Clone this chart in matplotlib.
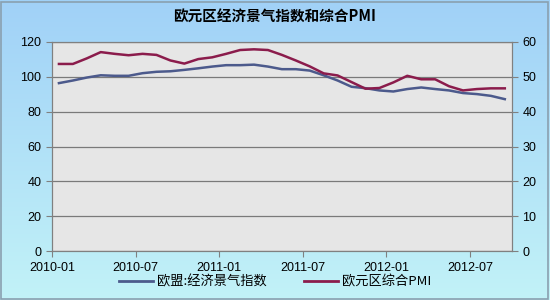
import numpy as np
import matplotlib.pyplot as plt
from matplotlib.lines import Line2D
from matplotlib.patches import Rectangle

plt.rcParams['font.family'] = ['Noto Sans CJK SC', 'DejaVu Sans']
plt.rcParams['axes.unicode_minus'] = False

# monthly data, 2010-01 .. 2012-09
months = [f"{y}-{m:02d}" for y in (2010, 2011, 2012) for m in range(1, 13)][:33]
esi = [96.4, 97.9, 99.6, 100.9, 100.6, 100.6, 102.1, 102.9, 103.2, 104.0,
       104.9, 105.9, 106.7, 106.7, 107.0, 105.9, 104.4, 104.4, 103.6, 100.9,
       97.9, 94.3, 93.5, 92.2, 91.6, 93.0, 93.9, 93.0, 92.2, 90.7,
       90.1, 89.1, 87.2]
pmi = [53.7, 53.7, 55.3, 57.1, 56.6, 56.2, 56.6, 56.3, 54.7, 53.8,
       55.1, 55.6, 56.6, 57.7, 57.9, 57.7, 56.3, 54.7, 53.0, 51.0,
       50.4, 48.5, 46.6, 46.8, 48.4, 50.3, 49.3, 49.3, 47.3, 46.1,
       46.5, 46.7, 46.7]
tick_labels = ['2010-01', '2010-07', '2011-01', '2011-07', '2012-01', '2012-07']

fig = plt.figure(figsize=(5.5, 3), dpi=100)

# gradient background
bg = fig.add_axes([0, 0, 1, 1], zorder=-2)
grad = np.linspace(0, 1, 256).reshape(-1, 1)
top = np.array([0.63, 0.82, 0.97])
bot = np.array([0.76, 0.95, 0.97])
img = top + (bot - top) * grad[:, :, None]
bg.imshow(img, aspect='auto', extent=[0, 1, 0, 1], origin='upper')
bg.add_patch(Rectangle((0.002, 0.004), 0.995, 0.99, fill=False,
                       edgecolor='#8aa0b0', linewidth=1.2, transform=bg.transAxes))
bg.axis('off')

ax = fig.add_axes([0.0945, 0.163, 0.836, 0.697])
ax.set_facecolor('#e6e6e6')
x = np.arange(len(months))
ax.plot(x, esi, color='#4c5a8c', linewidth=1.8, zorder=3)
ax.set_xlim(-0.5, len(months) - 0.5)
ax.set_ylim(0, 120)
ax.set_yticks(range(0, 121, 20))
ax.set_xticks(np.arange(-0.5, len(months), 6)[:len(tick_labels)])
ax.set_xticklabels(tick_labels)
ax.grid(axis='y', color='#7a7a7a', linewidth=0.9)
ax.set_axisbelow(True)
for s in ax.spines.values():
    s.set_color('#808080')
ax.tick_params(colors='#808080', labelcolor='black', labelsize=9,
               length=4, direction='out')
for lbl in ax.get_xticklabels() + ax.get_yticklabels():
    lbl.set_family(['Liberation Sans', 'DejaVu Sans'])

ax2 = ax.twinx()
ax2.plot(x, pmi, color='#8b1c4c', linewidth=1.8, zorder=3)
ax2.set_ylim(0, 60)
ax2.set_yticks(range(0, 61, 10))
for s in ax2.spines.values():
    s.set_color('#808080')
ax2.tick_params(colors='#808080', labelcolor='black', labelsize=9,
                length=4, direction='out')
for lbl in ax2.get_yticklabels():
    lbl.set_family(['Liberation Sans', 'DejaVu Sans'])

fig.text(0.5, 0.943, '欧元区经济景气指数和综合PMI', ha='center', va='center',
         fontsize=10.5, fontweight='bold')

handles = [Line2D([], [], color='#4c5a8c', linewidth=2),
           Line2D([], [], color='#8b1c4c', linewidth=2)]
fig.legend(handles, ['欧盟:经济景气指数', '欧元区综合PMI'], loc='center',
           bbox_to_anchor=(0.5, 0.06), ncol=2, frameon=False, fontsize=9.5,
           handlelength=2.6, handletextpad=0.3, columnspacing=2.8)

fig.savefig('out.png', dpi=100)
